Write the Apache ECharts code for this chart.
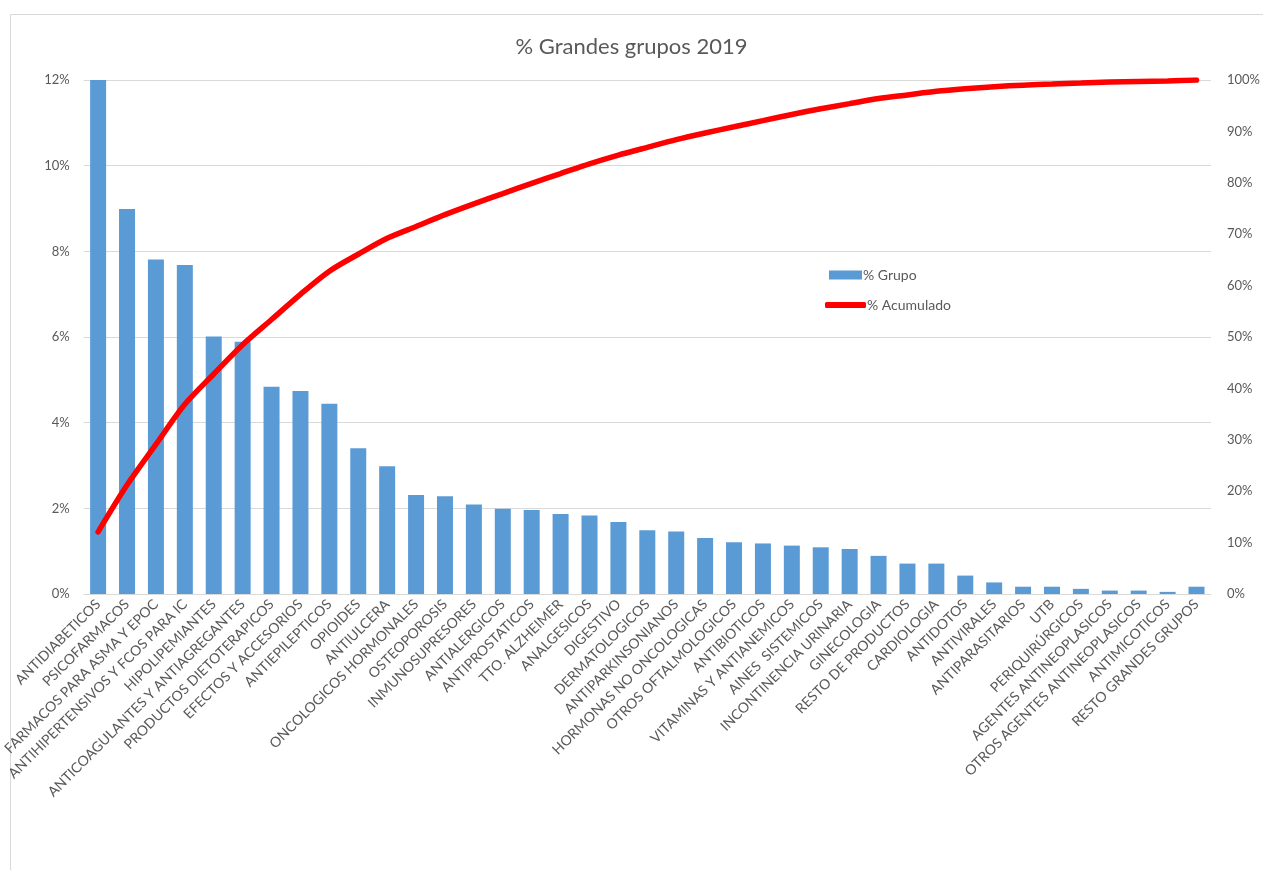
<!DOCTYPE html>
<html>
<head>
<meta charset="utf-8">
<script src="https://cdn.jsdelivr.net/npm/echarts@6/dist/echarts.min.js"></script>
<style>
html,body{margin:0;padding:0;background:#fff;}
#chart{width:1263px;height:870px;}
</style>
</head>
<body>
<div id="chart"></div>
<script>
const categories = [
  "ANTIDIABETICOS","PSICOFARMACOS","FARMACOS PARA ASMA Y EPOC","ANTIHIPERTENSIVOS Y FCOS PARA IC",
  "HIPOLIPEMIANTES","ANTICOAGULANTES Y ANTIAGREGANTES","PRODUCTOS DIETOTERAPICOS","EFECTOS Y ACCESORIOS",
  "ANTIEPILEPTICOS","OPIOIDES","ANTIULCERA","ONCOLOGICOS HORMONALES","OSTEOPOROSIS","INMUNOSUPRESORES",
  "ANTIALERGICOS","ANTIPROSTATICOS","TTO. ALZHEIMER","ANALGESICOS","DIGESTIVO","DERMATOLOGICOS",
  "ANTIPARKINSONIANOS","HORMONAS NO ONCOLOGICAS","OTROS OFTALMOLOGICOS","ANTIBIOTICOS",
  "VITAMINAS Y ANTIANEMICOS","AINES  SISTEMICOS","INCONTINENCIA URINARIA","GINECOLOGIA",
  "RESTO DE PRODUCTOS","CARDIOLOGIA","ANTIDOTOS","ANTIVIRALES","ANTIPARASITARIOS","UTB",
  "PERIQUIRÚRGICOS","AGENTES ANTINEOPLASICOS","OTROS AGENTES ANTINEOPLASICOS","ANTIMICOTICOS",
  "RESTO GRANDES GRUPOS"
];
const grupo = [
  12.2, 8.99, 7.81, 7.68, 6.01, 5.89, 4.84, 4.74, 4.44, 3.40,
  2.98, 2.31, 2.28, 2.09, 1.99, 1.96, 1.87, 1.83, 1.68, 1.49,
  1.46, 1.31, 1.21, 1.18, 1.13, 1.09, 1.05, 0.89, 0.71, 0.71,
  0.43, 0.27, 0.17, 0.17, 0.12, 0.08, 0.08, 0.05, 0.17
];
const acumulado = [
  12.1, 21.2, 29.1, 36.9, 42.8, 48.5, 53.4, 58.3, 62.8, 66.1,
  69.2, 71.5, 73.8, 75.9, 77.9, 79.9, 81.8, 83.7, 85.4, 86.9,
  88.4, 89.7, 90.9, 92.1, 93.3, 94.4, 95.4, 96.4, 97.1, 97.8,
  98.3, 98.7, 99.0, 99.2, 99.4, 99.6, 99.7, 99.8, 100
];
const leftTicks = {min: 0, max: 12, interval: 2};
const rightTicks = {min: 0, max: 100, interval: 10};

const txt = '#595959';
const gridCol = '#d9d9d9';
const font = 'Lato, "Open Sans", sans-serif';

const chart = echarts.init(document.getElementById('chart'));
const legendText = {fontFamily: font, fontSize: 14, color: txt, padding: [0,0,0,-4]};
chart.setOption({
  animation: false,
  backgroundColor: '#ffffff',
  textStyle: {fontFamily: font},
  title: {
    text: '% Grandes grupos 2019',
    left: 'center', top: 31,
    textStyle: {fontFamily: font, fontSize: 22, fontWeight: 'normal', color: txt}
  },
  graphic: [{
    type: 'rect', silent: true,
    shape: {x: 10.5, y: 14.5, width: 1400, height: 1000},
    style: {fill: 'none', stroke: gridCol, lineWidth: 1}
  }],
  legend: [{
    orient: 'vertical', left: 824, top: 263,
    itemWidth: 33, itemHeight: 9,
    textStyle: legendText,
    data: [{name: '% Grupo', icon: 'rect'}]
  }, {
    orient: 'vertical', left: 820, top: 293,
    itemWidth: 41, itemHeight: 6,
    textStyle: legendText,
    data: [{name: '% Acumulado', icon: 'roundRect'}]
  }],
  grid: {left: 82, right: 51, top: 80, bottom: 276, containLabel: false},
  xAxis: {
    type: 'category', data: categories,
    axisLine: {lineStyle: {color: gridCol}},
    axisTick: {show: false},
    axisLabel: {interval: 0, rotate: 45, color: txt, fontFamily: font, fontSize: 14, margin: 8}
  },
  yAxis: [{
    type: 'value', min: leftTicks.min, max: leftTicks.max, interval: leftTicks.interval,
    axisLine: {show: false}, axisTick: {show: false},
    splitLine: {lineStyle: {color: gridCol}},
    axisLabel: {formatter: '{value}%', color: txt, fontFamily: font, fontSize: 13, margin: 14}
  }, {
    type: 'value', min: rightTicks.min, max: rightTicks.max, interval: rightTicks.interval,
    axisLine: {show: false}, axisTick: {show: false},
    splitLine: {show: false},
    axisLabel: {formatter: '{value}%', color: txt, fontFamily: font, fontSize: 13, margin: 16}
  }],
  series: [{
    name: '% Grupo', type: 'bar', data: grupo, yAxisIndex: 0,
    barWidth: 16, clip: true,
    itemStyle: {color: '#5b9bd5'}
  }, {
    name: '% Acumulado', type: 'line', data: acumulado, yAxisIndex: 1,
    smooth: 0.3, showSymbol: false, symbol: 'none',
    lineStyle: {color: '#ff0000', width: 5.5, cap: 'round'},
    itemStyle: {color: '#ff0000'}
  }]
});
</script>
</body>
</html>
